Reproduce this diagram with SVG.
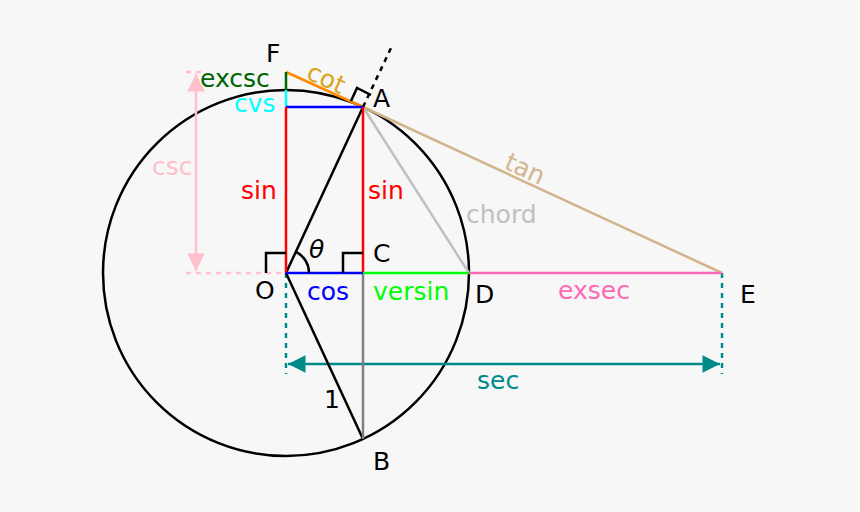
<svg xmlns="http://www.w3.org/2000/svg" width="860" height="512" viewBox="0 0 860 512">
<style>
text{font-family:"DejaVu Sans",sans-serif;font-size:25px}
.l{fill:none;stroke-width:2.5}
</style>
<defs>
<marker id="at" viewBox="0 0 10 10" refX="10" refY="5" markerWidth="9" markerHeight="7" orient="auto-start-reverse"><path d="M0,0L10,5L0,10z" fill="#008b8b"/></marker>
<marker id="ap" viewBox="0 0 10 10" refX="10" refY="5" markerWidth="9" markerHeight="7" orient="auto-start-reverse"><path d="M0,0L10,5L0,10z" fill="#ffc0cb"/></marker>
</defs>
<rect width="860" height="512" fill="#f7f7f7"/>
<g id="connectors">
<circle cx="286" cy="273" r="183" class="l" stroke="#000"/>
<line x1="186" y1="273" x2="286" y2="273" class="l" stroke="#ffc0cb" stroke-dasharray="5,5"/>
<line x1="186" y1="72" x2="206" y2="72" class="l" stroke="#ffc0cb" stroke-dasharray="5,5"/>
<line x1="196" y1="74" x2="196" y2="271" class="l" stroke="#ffc0cb" marker-start="url(#ap)" marker-end="url(#ap)"/>
<line x1="286" y1="273" x2="286" y2="374" class="l" stroke="#008b8b" stroke-dasharray="5,5"/>
<line x1="722" y1="273" x2="722" y2="374" class="l" stroke="#008b8b" stroke-dasharray="5,5"/>
<line x1="288" y1="364" x2="720" y2="364" class="l" stroke="#008b8b" marker-start="url(#at)" marker-end="url(#at)"/>
<line x1="363" y1="107" x2="469" y2="273" class="l" stroke="#c0c0c0"/>
<line x1="363" y1="107" x2="722" y2="273" class="l" stroke="#d2b48c"/>
<line x1="286" y1="72" x2="363" y2="107" class="l" stroke="#ff8c00"/>
<line x1="363" y1="107" x2="392" y2="46" class="l" stroke="#000" stroke-dasharray="5,5"/>
<line x1="286" y1="273" x2="363" y2="107" class="l" stroke="#000"/>
<line x1="286" y1="273" x2="363" y2="439" class="l" stroke="#000"/>
<line x1="363" y1="273" x2="363" y2="439" class="l" stroke="#808080"/>
<line x1="286" y1="72" x2="286" y2="90" class="l" stroke="#006400"/>
<line x1="286" y1="90" x2="286" y2="107" class="l" stroke="#00ffff"/>
<line x1="286" y1="107" x2="363" y2="107" class="l" stroke="#0000ff"/>
<line x1="286" y1="107" x2="286" y2="273" class="l" stroke="#ff0000"/>
<line x1="363" y1="107" x2="363" y2="273" class="l" stroke="#ff0000"/>
<line x1="286" y1="273" x2="363" y2="273" class="l" stroke="#0000ff"/>
<line x1="363" y1="273" x2="469" y2="273" class="l" stroke="#00ff00"/>
<line x1="469" y1="273" x2="722" y2="273" class="l" stroke="#ff69b4"/>
<path d="M266,273V253H286M343,273V253H363" class="l" stroke="#000"/>
<path d="M351,101L357,88L371,95" class="l" stroke="#000"/>
<path d="M296,252A23,23 0 0 1 309,273" class="l" stroke="#000"/>
</g>
<g id="labels">
<text x="266" y="62">F</text>
<text x="373" y="107">A</text>
<text x="255" y="299">O</text>
<text x="373" y="262">C</text>
<text x="475" y="303">D</text>
<text x="740" y="303">E</text>
<text x="373" y="470">B</text>
<text x="324" y="408">1</text>
<text x="309" y="258" font-style="italic">θ</text>
<text x="200" y="87" fill="#006400">excsc</text>
<text x="234" y="112" fill="#00ffff">cvs</text>
<text x="152" y="175" fill="#ffc0cb">csc</text>
<text x="241" y="199" fill="#ff0000">sin</text>
<text x="368" y="199" fill="#ff0000">sin</text>
<text x="307" y="300" fill="#0000ff">cos</text>
<text x="373" y="300" fill="#00ff00">versin</text>
<text x="558" y="299" fill="#ff69b4">exsec</text>
<text x="466" y="223" fill="#c0c0c0">chord</text>
<text x="477" y="389" fill="#008b8b">sec</text>
<text transform="translate(503,168) rotate(24.7)" fill="#d2b48c">tan</text>
<text transform="translate(305,78) rotate(24.7)" fill="#daa520">cot</text>
</g>
</svg>
